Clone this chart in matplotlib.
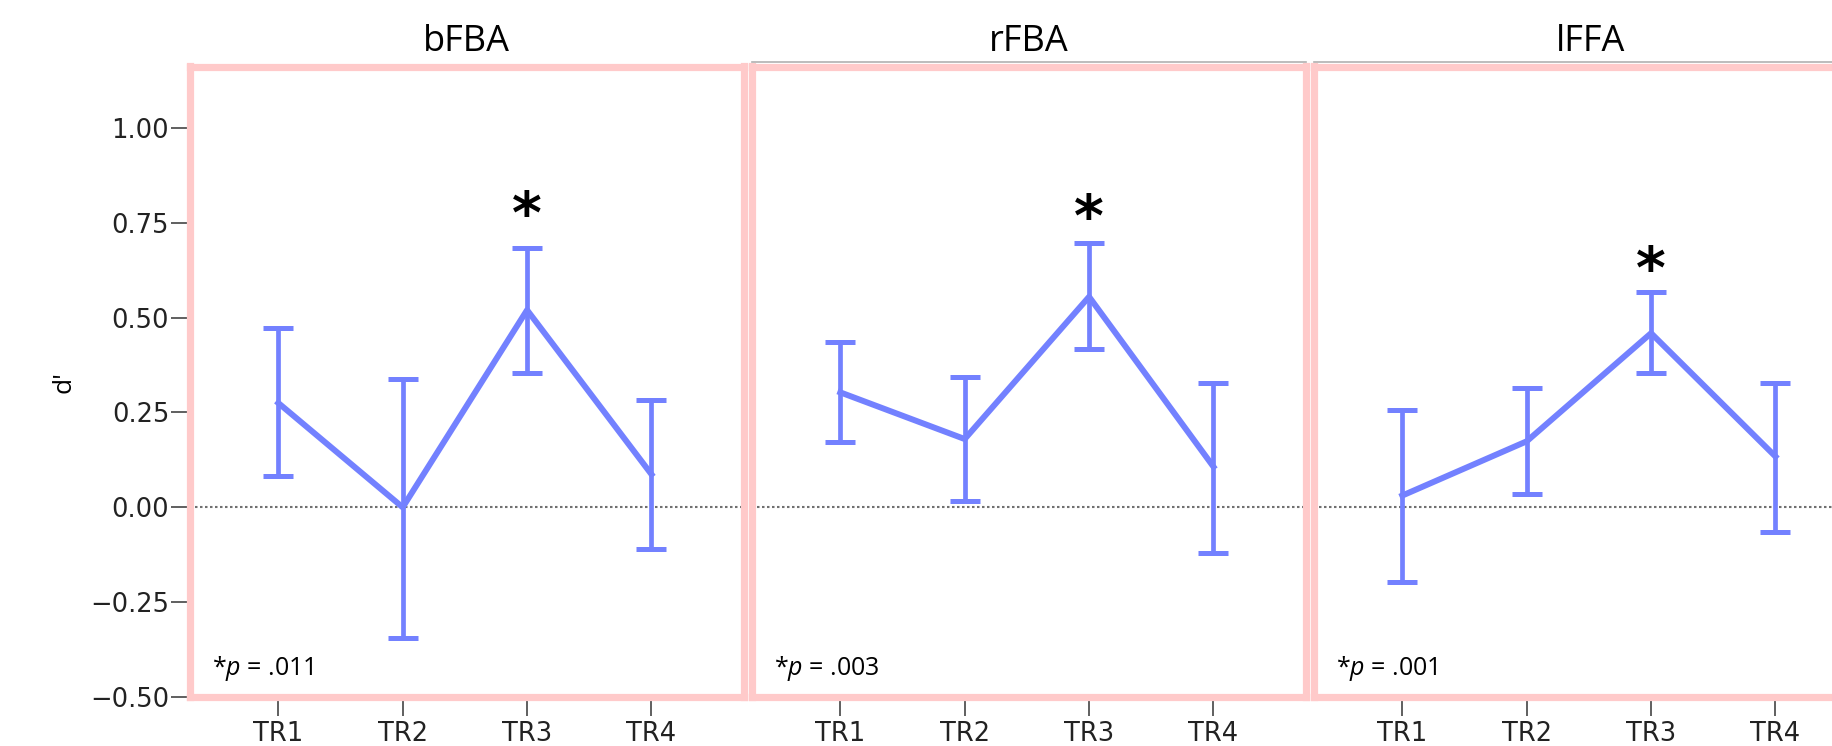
import numpy as np
import matplotlib
matplotlib.use("Agg")
import matplotlib.pyplot as plt
from matplotlib.lines import Line2D

plt.rcParams['font.family'] = ['Open Sans', 'DejaVu Sans']
plt.rcParams['mathtext.fontset'] = 'custom'
plt.rcParams['mathtext.rm'] = 'Open Sans'
plt.rcParams['mathtext.it'] = 'Open Sans:italic'

# data
regions = ['bFBA', 'rFBA', 'lFFA']
trs = ['TR1', 'TR2', 'TR3', 'TR4']

bfba_mean = [0.275, 0.000, 0.520, 0.087]
bfba_lo = [0.083, -0.345, 0.355, -0.111]
bfba_hi = [0.472, 0.339, 0.683, 0.282]

rfba_mean = [0.303, 0.180, 0.555, 0.107]
rfba_lo = [0.171, 0.017, 0.417, -0.121]
rfba_hi = [0.436, 0.343, 0.697, 0.328]

lffa_mean = [0.031, 0.174, 0.459, 0.134]
lffa_lo = [-0.196, 0.036, 0.355, -0.066]
lffa_hi = [0.257, 0.315, 0.568, 0.328]

p_labels = ['.011', '.003', '.001']
star_y = [0.765, 0.755, 0.62]

yticks = [-0.50, -0.25, 0.00, 0.25, 0.50, 0.75, 1.00]
ytick_labels = ['\u22120.50', '\u22120.25', '0.00', '0.25', '0.50', '0.75', '1.00']

means = [bfba_mean, rfba_mean, lffa_mean]
los = [bfba_lo, rfba_lo, lffa_lo]
his = [bfba_hi, rfba_hi, lffa_hi]

line_col = '#7381FF'
frame_col = '#FFCACA'

W, H = 1832, 746
fig = plt.figure(figsize=(W / 100, H / 100), dpi=100)

lefts = [190, 752, 1314]
pw = 553.5
bottom_px, top_px = 697, 66.5

x = np.arange(1, 5)
axes = []
for i in range(3):
    ax = fig.add_axes([lefts[i] / W, (H - bottom_px) / H, pw / W, (bottom_px - top_px) / H])
    axes.append(ax)
    m = np.array(means[i])
    lo = np.array(los[i])
    hi = np.array(his[i])

    ax.axhline(0, color='#707070', lw=1.5, ls=(0, (1.2, 1.2)), zorder=1)
    ax.errorbar(x, m, yerr=[m - lo, hi - m], color=line_col, lw=4.3,
                elinewidth=3.4, capsize=10.8, capthick=3.6, zorder=3)

    ax.text(3, star_y[i], '*', ha='center', va='center', fontsize=41,
            fontweight='bold', family='DejaVu Sans', color='black')
    ax.text(0.04, 0.035, '*$\\mathit{p}$ = ' + p_labels[i], transform=ax.transAxes,
            ha='left', va='baseline', fontsize=18, color='black')

    ax.set_xlim(0.29, 4.74)
    ax.set_ylim(-0.5, 1.162)
    ax.set_title(regions[i], fontsize=26, pad=11)

    for s in ax.spines.values():
        s.set_color(frame_col)
        s.set_linewidth(5.2)

    ax.set_xticks(x)
    ax.set_xticklabels(trs, family='DejaVu Sans')
    ax.tick_params(axis='x', length=14, width=1.2, color='#444444', pad=3,
                   labelsize=18.5, labelcolor='#222222')
    if i == 0:
        ax.set_yticks(yticks)
        ax.set_yticklabels(ytick_labels, family='DejaVu Sans')
        ax.tick_params(axis='y', length=14, width=1.2, color='#444444', pad=1,
                       labelsize=18.5, labelcolor='#222222')
        ax.set_ylabel("d'", fontsize=19)
        ax.yaxis.set_label_coords(-0.205, 0.5)
    else:
        ax.set_yticks([])

# thin grey edge above the 2nd and 3rd panel frames
for ax in axes[1:]:
    pos = ax.get_position()
    yy = (H - 61.5) / H
    fig.add_artist(Line2D([pos.x0, pos.x1], [yy, yy], transform=fig.transFigure,
                          color='#B0B0B0', lw=1.2))

fig.savefig('out.png', dpi=100)
